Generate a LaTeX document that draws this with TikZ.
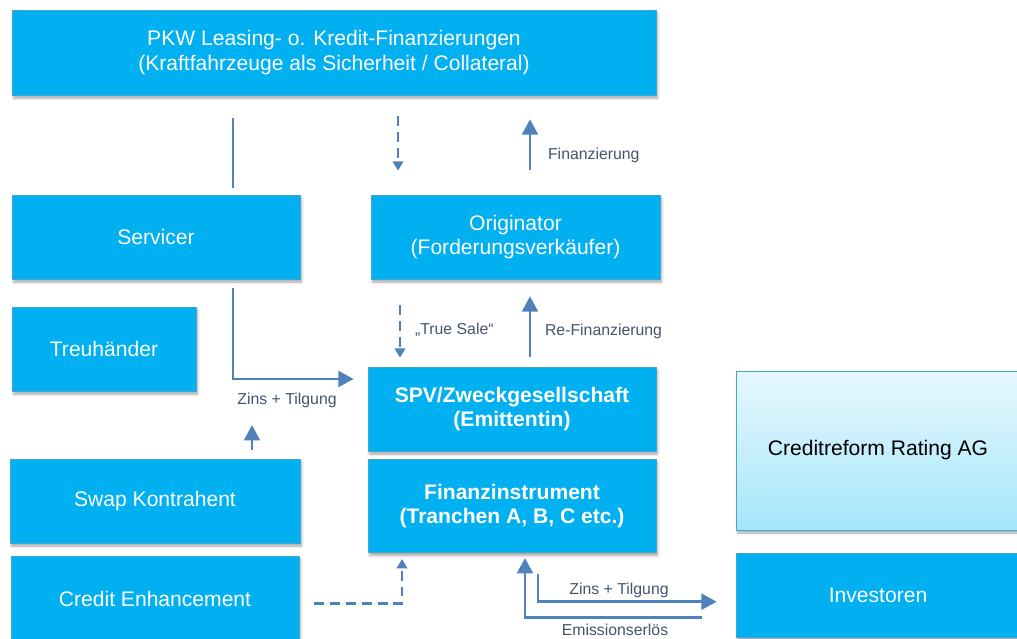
\documentclass[tikz,border=0pt]{standalone}
\usepackage{fontspec}
\setmainfont{Liberation Sans}
\usetikzlibrary{arrows.meta,positioning,shadows.blur}
\definecolor{absblue}{HTML}{00B0F0}
\definecolor{absedge}{HTML}{46A6D2}
\definecolor{flowblue}{HTML}{4F81BD}
\definecolor{flowtext}{HTML}{44546A}
\definecolor{ratetop}{HTML}{E6F8FE}
\definecolor{ratebot}{HTML}{A6E6FA}
\tikzset{
    absbox/.style={draw=absedge, line width=0.6pt, fill=absblue, text=white, align=center,
        font=\fontsize{18}{21}\selectfont, inner sep=2pt,
        blur shadow={shadow xshift=0.5mm, shadow yshift=-0.9mm, shadow blur steps=6, shadow opacity=35}},
    boldbox/.style={absbox, font=\fontsize{18}{21}\selectfont\bfseries},
    ratebox/.style={absbox, top color=ratetop, bottom color=ratebot, text=black},
    flowline/.style={draw=flowblue, line width=2.1pt},
    flowarrow/.style={flowline, -{Triangle[length=13pt, width=13.5pt]}},
    dasharrow/.style={flowline, dash pattern=on 8.5pt off 5pt, -{Triangle[length=8pt, width=9pt]}},
    flowlabel/.style={text=flowtext, font=\fontsize{13.5}{16}\selectfont, inner sep=1pt}
}

\begin{document}
\begin{tikzpicture}[y=-1cm]
\useasboundingbox (0,0) rectangle (30.51,19.17);
% boxes
\node[absbox, minimum width=19.32cm, minimum height=2.55cm] (pkw) at (10.02,1.575)
    {PKW Leasing- o. Kredit-Finanzierungen\\(Kraftfahrzeuge als Sicherheit / Collateral)};
\node[absbox, minimum width=8.64cm, minimum height=2.52cm] (serv) at (4.68,7.11) {Servicer};
\node[absbox, minimum width=5.52cm, minimum height=2.52cm] (treu) at (3.12,10.47) {Treuhänder};
\node[absbox, minimum width=8.70cm, minimum height=2.52cm] (swap) at (4.65,15.03) {Swap Kontrahent};
\node[absbox, minimum width=8.64cm, minimum height=2.52cm, below=0.39cm of swap] (ce) {Credit Enhancement};
\node[absbox, minimum width=8.67cm, minimum height=2.52cm] (orig) at (15.465,7.11) {Originator\\(Forderungsverkäufer)};
\node[boldbox, minimum width=8.64cm, minimum height=2.52cm] (spv) at (15.36,12.27) {SPV/Zweckgesellschaft\\(Emittentin)};
\node[boldbox, minimum width=8.64cm, minimum height=2.79cm, below=0.24cm of spv] (fin) {Finanzinstrument\\(Tranchen A, B, C etc.)};
\node[ratebox, minimum width=8.52cm, minimum height=4.77cm] (cr) at (26.34,13.515) {Creditreform Rating AG};
\node[absbox, minimum width=8.52cm, minimum height=2.52cm, below=0.69cm of cr] (inv) {Investoren};

% anchor points on the box edges
\coordinate (svtop) at ([xshift=2.31cm]serv.north);
\coordinate (svbot) at ([xshift=2.31cm]serv.south);
\coordinate (swtop) at ([xshift=2.91cm]swap.north);
\coordinate (ortopl) at ([xshift=-3.525cm]orig.north);
\coordinate (ortopr) at ([xshift=0.435cm]orig.north);
\coordinate (orbotl) at ([xshift=-3.465cm]orig.south);
\coordinate (orbotr) at ([xshift=0.435cm]orig.south);
\coordinate (finl) at ([xshift=-3.3cm]fin.south);
\coordinate (finm) at ([xshift=0.39cm]fin.south);
\coordinate (finr) at ([xshift=0.78cm]fin.south);

% flows
\draw[flowline, shorten <=0.21cm, shorten >=0.69cm] (svtop) -- (svtop |- pkw.south);
\draw[dasharrow, shorten <=0.63cm, shorten >=0.72cm] (ortopl |- pkw.south) -- (ortopl);
\draw[flowarrow, shorten <=0.75cm, shorten >=0.72cm] (ortopr) -- (ortopr |- pkw.south);
\node[flowlabel, anchor=west] (lfin) at (16.40,4.65) {Finanzierung};

\draw[flowarrow, shorten <=0.27cm, shorten >=0.42cm] (svbot) |- ([yshift=0.9cm]spv.west);
\node[flowlabel] (lzt1) at (8.61,12.0) {Zins + Tilgung};
\draw[flowarrow, shorten <=0.27cm, shorten >=0.49cm] (swtop) -- (swtop |- lzt1.south);

\draw[dasharrow, shorten <=0.78cm, shorten >=0.27cm] (orbotl) -- (orbotl |- spv.north);
\node[flowlabel, anchor=west] (lts) at (12.41,9.9) {„True Sale“};
\draw[flowarrow, shorten <=0.3cm, shorten >=0.51cm] (orbotr |- spv.north) -- (orbotr);
\node[flowlabel, anchor=west] (lrefin) at (16.31,9.93) {Re-Finanzierung};

\draw[dasharrow, shorten <=0.45cm, shorten >=0.18cm] ([yshift=-0.15cm]ce.east) -| (finl);

\draw[flowarrow, shorten <=1.02cm, shorten >=0.15cm] ([yshift=-0.66cm]inv.west) -| (finm);
\node[flowlabel] (lem) at (18.45,18.9) {Emissionserlös};
\draw[flowarrow, shorten <=0.63cm, shorten >=0.57cm] (finr) |- ([yshift=-0.18cm]inv.west);
\node[flowlabel] (lzt2) at (18.57,17.7) {Zins + Tilgung};
\end{tikzpicture}
\end{document}
